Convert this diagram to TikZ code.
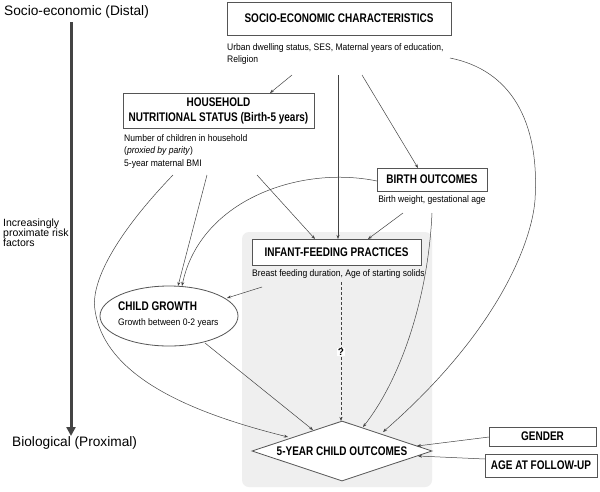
\documentclass[tikz,border=0pt]{standalone}
\usepackage{fontspec}
\setmainfont{Liberation Sans}
\newfontfamily\nfont[FakeStretch=0.8]{Liberation Sans}
\newfontfamily\sfontn[FakeStretch=0.9]{Liberation Sans}
\usetikzlibrary{arrows.meta,shapes.geometric}
\definecolor{ln}{HTML}{444444}
\definecolor{bx}{HTML}{555555}
\definecolor{bgshade}{HTML}{EFEFEF}
\begin{document}
\begin{tikzpicture}[x=1pt,y=-1pt,
  titlebox/.style={draw=bx,line width=0.8pt,fill=white,inner sep=0pt,font=\nfont\fontsize{12.5}{15}\selectfont\bfseries,align=center},
  small/.style={inner sep=0pt,font=\sfontn\fontsize{9.5}{12.3}\selectfont,align=left},
  conn/.style={draw=ln,line width=0.5pt,-{Stealth[length=4pt,width=3pt]}},
  side/.style={inner sep=0pt,font=\fontsize{13.7}{16}\selectfont}]
\useasboundingbox (0,0) rectangle (600,491);
\fill[white] (0,0) rectangle (600,491);
\fill[bgshade,rounded corners=7pt] (242,232) rectangle (432,487);

% left axis
\node[side,anchor=west] (distal) at (4,12) {Socio-economic (Distal)};
\node[side,anchor=west] (prox) at (12,443) {Biological (Proximal)};
\node[inner sep=0pt,align=left,anchor=north west,font=\fontsize{10.5}{10}\selectfont] (incr) at (3,219) {Increasingly\\proximate risk\\factors};
\coordinate (axtop) at (71,22);
\coordinate (axbot) at (71,436);
\draw[line width=3pt,color=ln,-{Triangle[length=9pt,width=9pt]}] (axtop) -- (axbot);

% boxes
\node[titlebox,minimum width=224pt,minimum height=33pt] (sec) at (339,18.5) {SOCIO-ECONOMIC CHARACTERISTICS};
\node[small,anchor=north west] (sect) at (227,43) {Urban dwelling status, SES, Maternal years of education,\\Religion};
\node[titlebox,minimum width=191pt,minimum height=35pt] (hh) at (218.5,110.5) {HOUSEHOLD\\NUTRITIONAL STATUS (Birth-5 years)};
\node[small,anchor=north west] (hht) at (124,134.5) {Number of children in household\\(\textit{proxied by parity})\\5-year maternal BMI};
\node[titlebox,minimum width=110pt,minimum height=23pt] (bo) at (432,179.5) {BIRTH OUTCOMES};
\node[small] (bot) at (432,200) {Birth weight, gestational age};
\node[titlebox,minimum width=169pt,minimum height=26pt] (ifp) at (336.5,252) {INFANT-FEEDING PRACTICES};
\node[small,anchor=west] (ifpt) at (252,274) {Breast feeding duration, Age of starting solids};
\node[ellipse,draw=bx,line width=0.8pt,fill=white,minimum width=138pt,minimum height=60pt,inner sep=0pt] (cg) at (169,316) {};
\node[anchor=west,inner sep=0pt,font=\nfont\fontsize{12.5}{15}\selectfont\bfseries] (cgt) at (118,306) {CHILD GROWTH};
\node[small,anchor=west] (cgs) at (118,323) {Growth between 0-2 years};
\node[diamond,draw=bx,line width=0.8pt,fill=white,minimum width=180pt,minimum height=60pt,inner sep=0pt,aspect=3] (out) at (342,451) {};
\node[inner sep=0pt,font=\nfont\fontsize{12.5}{15}\selectfont\bfseries] (outt) at (342,451) {5-YEAR CHILD OUTCOMES};
\node[titlebox,minimum width=107pt,minimum height=19pt] (gen) at (542.5,436.5) {GENDER};
\node[titlebox,minimum width=112pt,minimum height=23pt] (age) at (541,465.5) {AGE AT FOLLOW-UP};

% connector end points
\coordinate (s1) at (292,75);
\coordinate (s2) at (338,75);
\coordinate (s3) at (362,75);
\coordinate (s4) at (450,58);
\coordinate (hhin) at (270,93);
\coordinate (ifpin1) at (315,239);
\coordinate (ifpin2) at (338,239);
\coordinate (ifpin3) at (368,239);
\coordinate (boin) at (418,168);
\coordinate (h1) at (173,175);
\coordinate (h2) at (207,175);
\coordinate (h3) at (257,175);
\coordinate (b1) at (403,213);
\coordinate (b2) at (432,213);
\coordinate (bl) at (377,181);
\coordinate (cgin1) at (178,286);
\coordinate (cgin2) at (182,286);
\coordinate (cgin3) at (227,298);
\coordinate (f1) at (262,287);
\coordinate (q0) at (341,282);
\coordinate (cgout) at (205,343);
\coordinate (o1) at (288,437);
\coordinate (o2) at (313,430);
\coordinate (o3) at (341,421);
\coordinate (o4) at (363,427);
\coordinate (o5) at (383,432);
\coordinate (o6) at (417,446);
\coordinate (o7) at (418,456);
\coordinate (g1) at (489,437);
\coordinate (a1) at (485,459);

\draw[conn] (s1) -- (hhin);
\draw[conn] (s2) -- (ifpin2);
\draw[conn] (s3) -- (boin);
\draw[conn] (s4) .. controls (510,70) and (540,120) .. (535,200) .. controls (532,240) and (500,330) .. (o5);
\draw[conn] (b2) .. controls (428,300) and (400,380) .. (o4);
\draw[conn] (b1) -- (ifpin3);
\draw[conn] (h3) -- (ifpin1);
\draw[conn] (h2) -- (cgin1);
\draw[conn] (bl) .. controls (300,165) and (200,200) .. (cgin2);
\draw[conn] (f1) -- (cgin3);
\draw[conn] (cgout) -- (o2);
\draw[conn] (h1) .. controls (120,230) and (90,280) .. (95,310) .. controls (105,380) and (200,415) .. (o1);
\draw[conn,dashed,dash pattern=on 3pt off 2pt] (q0) -- (o3);
\node[fill=white,inner sep=1pt,font=\fontsize{10}{12}\selectfont\bfseries] (qm) at (341,352) {?};
\draw[conn] (g1) -- (o6);
\draw[conn] (a1) -- (o7);
\end{tikzpicture}
\end{document}
